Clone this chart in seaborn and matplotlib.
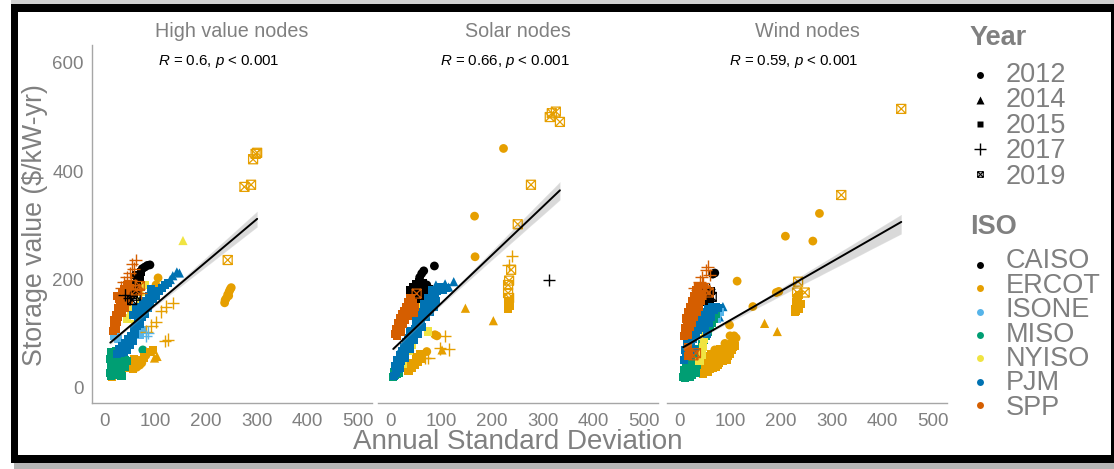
import numpy as np
import pandas as pd
import matplotlib
matplotlib.use("Agg")
import matplotlib.pyplot as plt
import seaborn as sns
from matplotlib.path import Path
from matplotlib.patches import Rectangle

sns.set_theme(style="white")
plt.rcParams['font.family'] = ['Liberation Sans', 'DejaVu Sans']
plt.rcParams['mathtext.fontset'] = 'custom'
plt.rcParams['mathtext.rm'] = 'Liberation Sans'
plt.rcParams['mathtext.it'] = 'Liberation Sans:italic'

# ---------------- data ----------------
PANELS = ["High value nodes", "Solar nodes", "Wind nodes"]
R_TEXT = [r"$R$ = 0.6, $p$ < 0.001", r"$R$ = 0.66, $p$ < 0.001", r"$R$ = 0.59, $p$ < 0.001"]
ISOS = ["CAISO", "ERCOT", "ISONE", "MISO", "NYISO", "PJM", "SPP"]
ISO_COLORS = ["#000000", "#E69F00", "#56B4E9", "#009E73", "#F0E442", "#0072B2", "#D55E00"]
YEARS = [2012, 2014, 2015, 2017, 2019]
X_TICKS = [0, 100, 200, 300, 400, 500]
Y_TICKS = [0, 200, 400, 600]

# (annual std dev, storage value, year) per ISO -- High value nodes
HV_CAISO = [(85,226,2012),(90,227,2012),(80,223,2012),(75,220,2012),(72,214,2015),(68,206,2015),
            (64,198,2015),(60,190,2015),(56,184,2015),(52,178,2015),(48,172,2015),(44,168,2015),
            (66,192,2015),(58,176,2015),(40,172,2017),(50,166,2017),(62,170,2019),(55,162,2019),
            (70,200,2015),(62,208,2015)]
HV_ERCOT = [(48,36,2015),(54,40,2015),(60,44,2015),(66,48,2015),(72,52,2015),(78,56,2015),(58,54,2015),
            (70,42,2012),(64,38,2012),(82,60,2012),(16,21,2015),(106,203,2012),(102,190,2012),
            (237,157,2012),(240,165,2012),(243,172,2012),(246,178,2012),(250,185,2012),(238,162,2012),
            (245,170,2012),(248,182,2012),(135,157,2017),(122,150,2017),(112,141,2017),(102,122,2017),
            (93,115,2017),(83,104,2017),(125,89,2017),(120,86,2017),(96,70,2015),(90,66,2015),
            (99,55,2014),(104,58,2014),(243,236,2019),(276,371,2019),(289,375,2019),(293,422,2019),
            (301,434,2019),(298,432,2019),(52,46,2015),(62,50,2015),(74,46,2012),(56,34,2015)]
HV_ISONE = [(20,95,2015),(22,100,2015),(70,98,2015),(76,106,2015),(82,96,2017),(86,102,2017),
            (64,110,2015),(28,90,2015)]
HV_MISO = [(14,22,2015),(16,30,2015),(20,28,2015),(18,38,2015),(22,44,2015),(26,50,2015),(20,55,2015),
           (28,40,2015),(32,32,2015),(30,56,2015),(36,46,2015),(40,38,2015),(44,50,2015),(24,24,2015),
           (34,22,2015),(16,48,2015),(14,66,2015),(24,68,2015),(38,60,2015),(76,70,2012),
           (12,28,2015),(18,24,2015),(22,34,2015),(26,36,2015),(30,46,2015),(14,42,2015),
           (20,62,2015),(28,64,2015),(34,54,2015),(40,52,2015),(12,54,2015),(26,28,2015)]
HV_NYISO = [(155,272,2014),(52,140,2015),(72,178,2014),(80,190,2015),(44,128,2015),(60,118,2015),
            (70,160,2015),(48,150,2015),(90,170,2015)]
HV_PJM = [(26,62,2015),(32,64,2015),(38,66,2015),(44,70,2015),(30,72,2015),(36,78,2015),(42,82,2015),
          (50,80,2015),(56,86,2015),(46,90,2015),(52,96,2015),(60,100,2015),(58,108,2015),(64,114,2015),
          (70,118,2015),(66,126,2015),(74,130,2015),(80,136,2015),(78,145,2015),(86,148,2015),
          (90,156,2015),(84,160,2015),(96,164,2015),(102,170,2015),(98,176,2015),(108,178,2015),
          (114,184,2015),(120,190,2015),(125,194,2015),(70,140,2015),(62,150,2015),(76,160,2015),
          (88,170,2015),(56,135,2015),(92,182,2015),(135,207,2014),(143,214,2014),(148,212,2014),
          (130,200,2014),(34,70,2015),(40,74,2015),(48,84,2015),(54,92,2015)]
HV_SPP = [(18,105,2015),(20,110,2015),(24,108,2015),(22,118,2015),(26,122,2015),(20,125,2015),
          (28,130,2015),(24,135,2015),(30,140,2015),(34,138,2015),(28,148,2015),(36,150,2015),
          (40,148,2015),(32,156,2015),(44,158,2015),(38,162,2015),(48,160,2015),(30,165,2015),
          (42,170,2015),(36,175,2015),(26,170,2015),(50,185,2015),(45,190,2015),(40,182,2015),
          (55,228,2017),(62,236,2017),(58,220,2017),(50,212,2017),(44,205,2017),(52,200,2017),
          (38,195,2017),(34,185,2017),(60,190,2017),(68,182,2017),(72,176,2017),(62,180,2019),
          (70,188,2019)]

# Solar nodes
SO_CAISO = [(87,225,2012),(62,211,2012),(66,216,2012),(58,204,2012),(50,192,2015),(56,196,2015),
            (64,194,2015),(44,186,2015),(40,180,2015),(48,178,2015),(58,182,2015),(70,186,2015),
            (76,182,2015),(52,166,2015),(60,170,2015),(46,160,2015),(56,154,2015),(50,145,2015),
            (54,135,2015),(62,150,2015),(68,176,2012),(72,190,2012),(312,199,2017)]
SO_ERCOT = [(36,32,2015),(42,36,2015),(48,42,2015),(54,48,2015),(60,54,2015),(40,46,2015),(50,56,2015),
            (32,40,2015),(58,62,2015),(88,98,2012),(92,96,2012),(72,67,2012),(223,442,2012),
            (166,317,2012),(167,242,2012),(108,96,2017),(98,73,2017),(115,71,2017),(75,55,2017),
            (69,55,2017),(240,243,2017),(233,227,2017),(102,70,2014),(148,147,2014),(203,124,2014),
            (277,375,2019),(251,302,2019),(318,507,2019),(326,510,2019),(334,491,2019),(314,500,2019),
            (238,218,2019),(234,198,2019),(232,190,2019),(232,175,2019),(234,166,2019),(232,150,2015),
            (232,145,2015),(234,158,2015),(236,152,2015)]
SO_ISONE = [(22,62,2015),(16,48,2015),(44,96,2015)]
SO_MISO = [(6,20,2015),(10,24,2015),(14,26,2015),(8,30,2015),(18,28,2015),(12,34,2015)]
SO_NYISO = [(30,55,2015),(42,80,2015),(56,118,2015),(74,104,2015),(26,44,2015),(18,40,2015),
            (48,102,2015),(64,150,2015),(36,68,2015)]
SO_PJM = [(8,22,2015),(12,28,2015),(16,34,2015),(10,40,2015),(18,44,2015),(14,52,2015),(22,50,2015),
          (20,60,2015),(26,58,2015),(24,68,2015),(30,66,2015),(28,76,2015),(34,74,2015),(32,84,2015),
          (38,82,2015),(36,92,2015),(42,90,2015),(44,100,2015),(48,108,2015),(40,104,2015),
          (52,114,2015),(56,120,2015),(50,124,2015),(60,128,2015),(64,134,2015),(58,140,2015),
          (68,142,2015),(72,148,2015),(66,154,2015),(76,156,2015),(80,162,2015),(74,166,2015),
          (84,170,2015),(88,176,2015),(82,180,2015),(92,178,2015),(96,184,2015),(100,186,2015),
          (104,180,2015),(110,184,2015),(70,130,2015),(78,140,2015),(86,150,2015),(90,160,2015),
          (62,112,2015),(54,100,2015),(46,88,2015),(38,72,2015),(30,56,2015),(20,36,2015),
          (125,196,2014),(115,186,2014),(108,192,2014),(90,190,2014)]
SO_SPP = [(52,174,2019),(10,100,2015),(14,95,2015),(12,108,2015),(18,112,2015),(16,120,2015),
          (22,104,2015),(26,118,2015),(20,128,2015),(30,125,2015),(24,136,2015),(34,132,2015),
          (28,142,2015),(38,140,2015),(32,150,2015),(42,148,2015),(36,158,2015),(44,156,2015),
          (40,165,2015),(48,150,2015),(46,138,2015)]

# Wind nodes
WI_CAISO = [(70,212,2012),(66,210,2012),(62,178,2015),(56,170,2015),(50,165,2015),(60,160,2015),
            (54,158,2015),(64,168,2019),(58,182,2017),(48,175,2015)]
WI_ERCOT = [(38,28,2015),(44,32,2015),(50,36,2015),(56,40,2015),(62,44,2015),(68,48,2015),(74,52,2015),
            (80,56,2015),(86,62,2015),(92,68,2015),(98,74,2015),(104,80,2015),(108,86,2012),
            (112,92,2012),(50,48,2015),(60,58,2015),(70,64,2015),(80,72,2015),(90,82,2012),
            (100,96,2012),(42,40,2015),(56,30,2015),(66,36,2015),(76,42,2015),(86,50,2015),(96,58,2015),
            (102,73,2015),(106,76,2015),(99,116,2012),(145,150,2012),(114,197,2012),(191,176,2012),
            (196,178,2012),(209,280,2012),(263,271,2012),(276,322,2012),(168,119,2014),(193,104,2014),
            (437,515,2019),(319,356,2019),(234,196,2019),(247,176,2019),(232,176,2019),(227,140,2015),
            (230,150,2015),(232,160,2015),(234,168,2015),(236,145,2015),(240,155,2015),
            (228,145,2015),(230,142,2015),(233,148,2015),(229,158,2015),(231,165,2015),(235,172,2015),
            (46,26,2015),(52,30,2015),(60,34,2015),(64,40,2015),(72,38,2015),(78,46,2015),(84,54,2015),
            (90,60,2015),(94,52,2015),(58,46,2015),(66,52,2015),(74,58,2015),(82,64,2015),(40,34,2015),
            (48,40,2015),(54,52,2015),(62,62,2015),(70,70,2012),(88,72,2015),(96,66,2015),
            (104,70,2015),(110,78,2015),(100,62,2015),(108,96,2012)]
WI_ISONE = [(74,140,2015),(70,130,2015),(75,128,2015),(80,140,2015)]
WI_MISO = [(8,20,2015),(12,26,2015),(16,22,2015),(10,32,2015),(14,38,2015),(20,30,2015),(24,40,2015),
           (18,46,2015),(28,50,2015),(32,58,2015),(36,64,2015),(40,72,2015),(44,80,2015),(48,88,2015),
           (52,96,2015),(56,104,2015),(60,112,2015),(64,120,2015),(68,128,2015),(72,136,2015),
           (30,44,2015),(22,54,2015),(12,18,2015),(18,26,2015),(24,30,2015),(28,36,2015),(34,42,2015),
           (38,50,2015),(26,24,2015),(32,28,2015),(16,34,2015),(22,20,2015)]
WI_NYISO = [(44,60,2015),(46,75,2015),(48,90,2015),(50,105,2015),(42,120,2015),(40,50,2015),(46,130,2015)]
WI_PJM = [(10,52,2015),(14,60,2015),(12,70,2015),(18,66,2015),(20,78,2015),(16,84,2015),(24,82,2015),
          (22,92,2015),(28,90,2015),(26,100,2015),(32,98,2015),(30,108,2015),(36,106,2015),
          (34,116,2015),(40,114,2015),(38,124,2015),(44,122,2015),(42,132,2015),(48,130,2015),
          (46,140,2015),(52,138,2015),(56,146,2015),(60,140,2015),(64,150,2015),(68,144,2015),
          (72,150,2015),(76,148,2015),(50,110,2015),(58,120,2015),(62,130,2015),(54,100,2015),
          (20,58,2015),(30,70,2015),(86,150,2014),(79,131,2014),(72,135,2014)]
WI_SPP = [(10,95,2015),(14,100,2015),(18,98,2015),(12,110,2015),(16,115,2015),(22,112,2015),
          (20,122,2015),(26,120,2015),(14,128,2015),(24,132,2015),(30,130,2015),(18,140,2015),
          (28,142,2015),(34,140,2015),(22,150,2015),(32,152,2015),(38,150,2015),(26,160,2015),
          (36,162,2015),(42,160,2015),(30,170,2015),(40,172,2015),(46,170,2015),(34,180,2015),
          (44,182,2015),(50,178,2015),(38,188,2015),(48,186,2015),(56,224,2017),(53,218,2017),
          (60,208,2017),(47,193,2017),(40,196,2017),(44,205,2017),(36,180,2017),(30,184,2017),
          (33,64,2019),(28,60,2019),(52,180,2019),(58,176,2019),(17,58,2015),(17,76,2015),(20,66,2015)]

PANEL_DATA = {
    "High value nodes": [HV_CAISO, HV_ERCOT, HV_ISONE, HV_MISO, HV_NYISO, HV_PJM, HV_SPP],
    "Solar nodes": [SO_CAISO, SO_ERCOT, SO_ISONE, SO_MISO, SO_NYISO, SO_PJM, SO_SPP],
    "Wind nodes": [WI_CAISO, WI_ERCOT, WI_ISONE, WI_MISO, WI_NYISO, WI_PJM, WI_SPP],
}

rows = []
for panel, groups in PANEL_DATA.items():
    for iso, pts in zip(ISOS, groups):
        for x, y, yr in pts:
            rows.append(dict(panel=panel, ISO=iso, Year=yr, x=x, y=y))
df = pd.DataFrame(rows)
df["ISO"] = pd.Categorical(df["ISO"], categories=ISOS, ordered=True)

# ---------------- styles ----------------
W, H = 1114, 469
GRAY = "#808080"
AX_GRAY = "#a6a6a6"
palette = dict(zip(ISOS, ISO_COLORS))

box_verts = [(-1, -1), (1, -1), (1, 1), (-1, 1), (-1, -1),
             (-1, -1), (1, 1), (-1, 1), (1, -1)]
box_codes = [Path.MOVETO, Path.LINETO, Path.LINETO, Path.LINETO, Path.CLOSEPOLY,
             Path.MOVETO, Path.LINETO, Path.MOVETO, Path.LINETO]
BOXX = Path(box_verts, box_codes)

YEAR_MARKERS = {2012: "o", 2014: "^", 2015: "s", 2017: "+", 2019: BOXX}
YEAR_SIZES = {2012: 40, 2014: 44, 2015: 34, 2017: 80, 2019: 42}

fig = plt.figure(figsize=(W / 100, H / 100), dpi=100)
fig.patch.set_facecolor("white")

panel_left_px = [92, 378, 667]
ax_w_px = 280
ax_top_px, ax_bot_px = 45, 403

for i, panel in enumerate(PANELS):
    ax = fig.add_axes([panel_left_px[i] / W, 1 - ax_bot_px / H, ax_w_px / W, (ax_bot_px - ax_top_px) / H])
    sub = df[df["panel"] == panel]
    for yr in YEARS:
        d = sub[sub["Year"] == yr].sort_values("ISO")
        if d.empty:
            continue
        if yr == 2017:
            sns.scatterplot(data=d, x="x", y="y", hue="ISO", palette=palette, marker="+",
                            s=YEAR_SIZES[yr], linewidth=1.0, legend=False, ax=ax)
        elif yr == 2019:
            sns.scatterplot(data=d, x="x", y="y", hue="ISO", palette=palette, marker=BOXX,
                            s=YEAR_SIZES[yr], linewidth=0.9, legend=False, ax=ax)
            coll = ax.collections[-1]
            fc = coll.get_facecolors()
            coll.set_edgecolors(fc)
            coll.set_facecolors("none")
        else:
            sns.scatterplot(data=d, x="x", y="y", hue="ISO", palette=palette,
                            marker=YEAR_MARKERS[yr], s=YEAR_SIZES[yr], edgecolor="none",
                            linewidth=0, legend=False, ax=ax)
    sns.regplot(data=sub, x="x", y="y", scatter=False, ax=ax, color="black", ci=40, seed=0,
                line_kws=dict(lw=1.4), truncate=True)
    ax.set_xlim(-24, 527)
    ax.set_ylim(-28, 633)
    ax.set_xticks(X_TICKS)
    ax.set_xticklabels([str(t) for t in X_TICKS])
    ax.set_yticks(Y_TICKS)
    ax.set_yticklabels([str(t) for t in Y_TICKS] if i == 0 else [])
    ax.set_xlabel("")
    ax.set_ylabel("")
    ax.tick_params(axis="both", length=0, labelsize=13.5, labelcolor=GRAY)
    ax.tick_params(axis="x", pad=7)
    ax.tick_params(axis="y", pad=6)
    for s in ["top", "right"]:
        ax.spines[s].set_visible(False)
    ax.spines["left"].set_visible(i == 0)
    ax.spines["left"].set_color(AX_GRAY)
    ax.spines["bottom"].set_color(AX_GRAY)
    ax.spines["left"].set_linewidth(1.0)
    ax.spines["bottom"].set_linewidth(1.0)
    ax.set_facecolor("none")
    ax.text(0.5, 1 + 13 / (ax_bot_px - ax_top_px), panel, transform=ax.transAxes,
            ha="center", va="center", fontsize=14.2, color=GRAY)
    ax.text(225, 603, R_TEXT[i], ha="center", va="center", fontsize=10.8, color="black")

fig.text(518 / W, 1 - 442 / H, "Annual Standard Deviation", ha="center", va="center",
         fontsize=20, color=GRAY)
fig.text(35 / W, 1 - 225 / H, "Storage value ($/kW-yr)", ha="center", va="center",
         rotation=90, fontsize=19.3, color=GRAY)

# ---------------- overlay: legend + frame ----------------
lax = fig.add_axes([0, 0, 1, 1], zorder=10)
lax.set_xlim(0, W)
lax.set_ylim(H, 0)
lax.axis("off")
lax.patch.set_alpha(0)

LEG_FS = 19.5
em_px = LEG_FS * 100 / 72
cap_px = 0.716 * em_px
lp_px = 0.938 * em_px

lax.text(970, 38, "Year", ha="left", va="center", fontsize=LEG_FS, fontweight="bold", color=GRAY)
year_y = [75, 100, 124, 149, 174]
leg_markers = {2012: ("o", 5), 2014: ("^", 5.5), 2015: ("s", 4.5), 2017: ("+", 9), 2019: (BOXX, 4)}
for yr, yy in zip(YEARS, year_y):
    mk, ms = leg_markers[yr]
    if yr == 2019:
        lax.plot([980], [yy], marker=mk, ms=ms, mfc="none", mec="black", mew=0.8, ls="none")
    elif yr == 2017:
        lax.plot([980], [yy], marker=mk, ms=ms, mec="black", mew=1.0, ls="none")
    else:
        lax.plot([980], [yy], marker=mk, ms=ms, color="black", mec="none", ls="none")
year_pitch = (year_y[-1] - year_y[0]) / (len(year_y) - 1)
lax.text(1006, year_y[-1] + cap_px / 2, "\n".join(str(y) for y in YEARS), ha="left", va="baseline",
         fontsize=LEG_FS, color=GRAY, linespacing=year_pitch / lp_px)

lax.text(970, 227, "ISO", ha="left", va="center", fontsize=LEG_FS, fontweight="bold", color=GRAY)
iso_y = [265, 288, 312, 335, 358, 382, 405]
for iso, col, yy in zip(ISOS, ISO_COLORS, iso_y):
    lax.plot([980], [yy], marker="o", ms=5, color=col, mec="none", ls="none")
iso_pitch = (iso_y[-1] - iso_y[0]) / (len(iso_y) - 1)
lax.text(1006, iso_y[-1] + cap_px / 2, "\n".join(ISOS), ha="left", va="baseline",
         fontsize=LEG_FS, color=GRAY, linespacing=iso_pitch / lp_px)

# frame with shadow
lax.add_patch(Rectangle((14, 463), W - 14, 6, color="#b5b5b5", lw=0))
lax.add_patch(Rectangle((11, 455.5), W - 11, 8, color="black", lw=0))
lax.add_patch(Rectangle((11, 4), W - 11, 8, color="black", lw=0))
lax.add_patch(Rectangle((11, 4), 7, 459, color="black", lw=0))
lax.add_patch(Rectangle((1111, 4), 3, 459, color="black", lw=0))
lax.add_patch(Rectangle((11, 0), W - 11, 4, color="#d0d0d0", lw=0))

fig.savefig("out.png", dpi=100, facecolor="white")
